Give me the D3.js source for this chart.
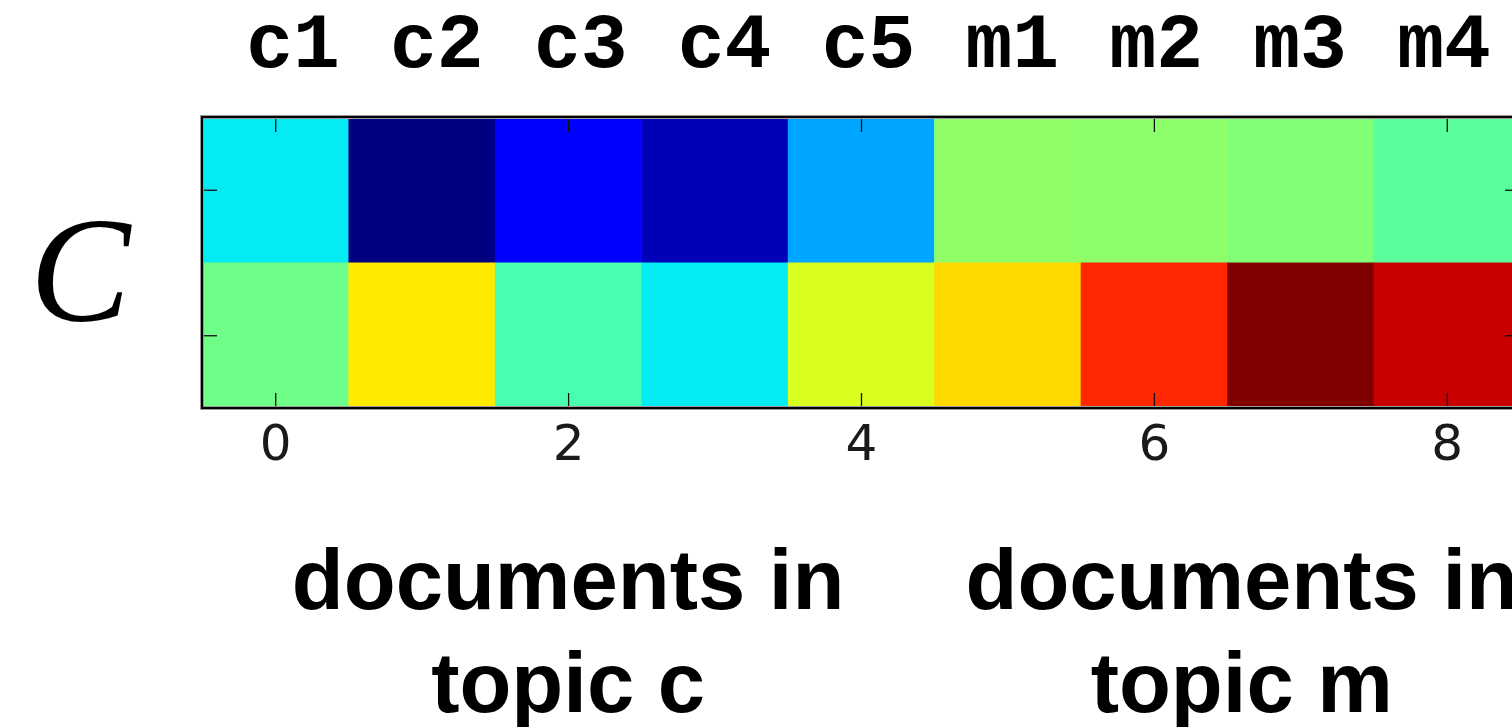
<!DOCTYPE html>
<html>
<head>
<meta charset="utf-8">
<script src="https://cdn.jsdelivr.net/npm/d3@7"></script>
<style>
  html, body { margin: 0; padding: 0; background: #fff; overflow: hidden; }
</style>
</head>
<body>
<svg id="chart" width="1512" height="727"></svg>
<script>

// data: column labels and the two rows of C (values on the jet scale 0..1)

let docLabels = ["c1", "c2", "c3", "c4", "c5", "m1", "m2", "m3", "m4"];
let rowTop    = [0.355, 0.0, 0.12, 0.05, 0.288, 0.525, 0.52, 0.505, 0.46];
let rowBottom = [0.485, 0.662, 0.437, 0.355, 0.613, 0.681, 0.868, 1.0, 0.9375];
let xTicks = [0, 2, 4, 6, 8];
let yTicks = [0, 1];
let groupTitles = [["documents in", "topic c"], ["documents in", "topic m"]];
let groupCenters = [2, 6.6];

// matplotlib "jet" as three piecewise linear channels
let jetR = d3.scaleLinear().domain([0, 0.35, 0.66, 0.89, 1]).range([0, 0, 1, 1, 0.5]).clamp(true);
let jetG = d3.scaleLinear().domain([0, 0.125, 0.375, 0.64, 0.91, 1]).range([0, 0, 1, 1, 0, 0]).clamp(true);
let jetB = d3.scaleLinear().domain([0, 0.11, 0.34, 0.65, 1]).range([0.5, 1, 1, 0, 0]).clamp(true);

function jet(v) {
    return d3.rgb(Math.round(jetR(v) * 255), Math.round(jetG(v) * 255), Math.round(jetB(v) * 255));
}

let svg = d3.select("#chart");

let plotLeft = 202, plotRight = 1520, plotTop = 117, plotBottom = 408;

let x = d3.scaleLinear()
          .domain([-0.5, docLabels.length - 0.5])
          .range([plotLeft, plotRight]);
let y = d3.scaleLinear()
          .domain([-0.5, 1.5])
          .range([plotTop, plotBottom]);

let cells = [];
[rowTop, rowBottom].forEach((row, r) => {
    row.forEach((v, c) => cells.push({ r: r, c: c, v: v }));
});

// cells
svg.append("g")
   .selectAll("rect")
   .data(cells)
   .join("rect")
   .attr("x", d => x(d.c - 0.5))
   .attr("y", d => y(d.r - 0.5))
   .attr("width", d => x(d.c + 0.5) - x(d.c - 0.5) + 0.5)
   .attr("height", d => y(d.r + 0.5) - y(d.r - 0.5) + 0.5)
   .style("fill", d => jet(d.v));

// axes with inward ticks, matplotlib style
function styleAxis(g) {
    g.select(".domain").remove();
    g.selectAll(".tick line").style("stroke", "#111").style("stroke-width", 1.3);
}

svg.append("g")
   .attr("transform", `translate(0,${plotBottom})`)
   .call(d3.axisBottom(x).tickValues(xTicks).tickSizeInner(-15).tickSizeOuter(0))
   .call(styleAxis)
   .call(g => g.selectAll(".tick text")
               .attr("dy", null)
               .attr("y", 52)
               .style("font-family", "'DejaVu Sans', sans-serif")
               .style("font-size", "50px")
               .style("fill", "#1a1a1a"));

svg.append("g")
   .attr("transform", `translate(0,${plotTop})`)
   .call(d3.axisTop(x).tickValues(xTicks).tickSizeInner(-15).tickSizeOuter(0).tickFormat(""))
   .call(styleAxis);

svg.append("g")
   .attr("transform", `translate(${plotLeft},0)`)
   .call(d3.axisLeft(y).tickValues(yTicks).tickSizeInner(-15).tickSizeOuter(0).tickFormat(""))
   .call(styleAxis);

svg.append("g")
   .attr("transform", `translate(${plotRight},0)`)
   .call(d3.axisRight(y).tickValues(yTicks).tickSizeInner(-15).tickSizeOuter(0).tickFormat(""))
   .call(styleAxis);

// frame
svg.append("rect")
   .attr("x", plotLeft)
   .attr("y", plotTop)
   .attr("width", plotRight - plotLeft)
   .attr("height", plotBottom - plotTop)
   .style("fill", "none")
   .style("stroke", "#aaa")
   .style("stroke-width", 4);
svg.append("rect")
   .attr("x", plotLeft)
   .attr("y", plotTop)
   .attr("width", plotRight - plotLeft)
   .attr("height", plotBottom - plotTop)
   .style("fill", "none")
   .style("stroke", "#000")
   .style("stroke-width", 2.2);

// column labels (placed by hand over the image, slightly tighter than the cells)
let labelX = d3.scaleLinear().domain([0, docLabels.length - 1]).range([293, 1444]);

svg.append("g")
   .selectAll("text")
   .data(docLabels)
   .join("text")
   .attr("x", (d, i) => labelX(i))
   .attr("y", 67)
   .attr("text-anchor", "middle")
   .style("font-family", "'Liberation Mono', 'Courier New', monospace")
   .style("font-weight", "bold")
   .style("font-size", "78px")
   .text(d => d);

// matrix name
svg.append("text")
   .attr("x", 80)
   .attr("y", 321)
   .attr("text-anchor", "middle")
   .style("font-family", "'Liberation Serif', 'Times New Roman', serif")
   .style("font-style", "italic")
   .style("font-size", "151px")
   .text("C");

// group titles
let titles = svg.append("g")
   .selectAll("text")
   .data(groupTitles)
   .join("text")
   .attr("text-anchor", "middle")
   .style("font-family", "'Liberation Sans', Arial, Helvetica, sans-serif")
   .style("font-weight", "bold")
   .style("font-size", "85px");

titles.selectAll("tspan")
      .data((d, i) => d.map(t => ({ t: t, g: i })))
      .join("tspan")
      .attr("x", d => x(groupCenters[d.g]))
      .attr("y", (d, j) => 609 + j * 103)
      .text(d => d.t);

</script>
</body>
</html>
